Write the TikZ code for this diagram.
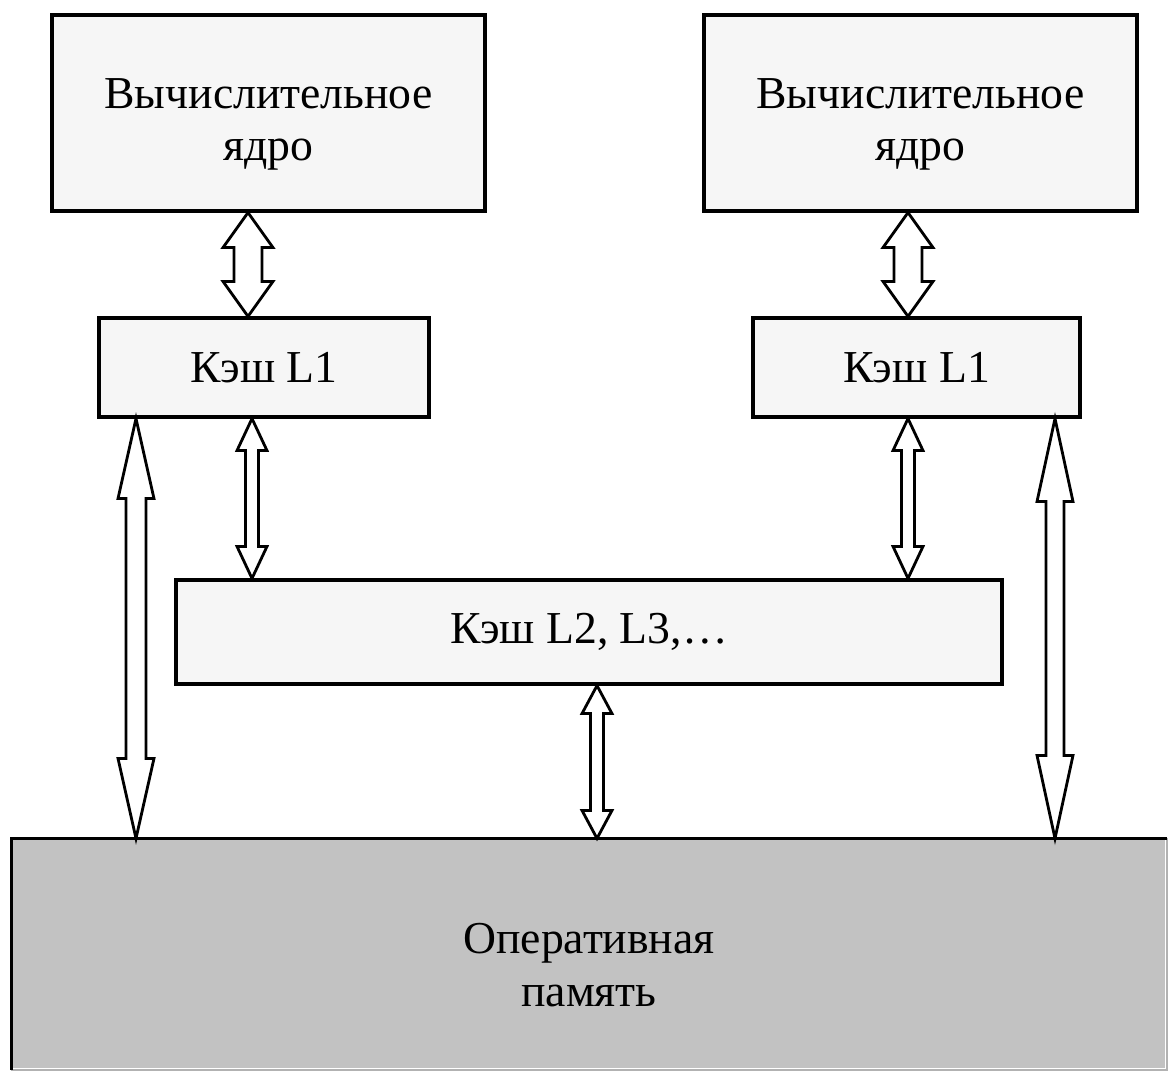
\documentclass[tikz,border=0pt]{standalone}
\usepackage{fontspec}
\setmainfont{Liberation Serif}
\usetikzlibrary{calc}

% hollow double-headed block arrow: top point, bottom point,
% shaft half width, head half width, head length
\newcommand{\dblarrow}[5]{%
  \draw[blockarrow] let \p1=(#1), \p2=(#2) in
    (\x1,\y1) -- (\x1+#4,\y1-#5) -- (\x1+#3,\y1-#5) -- (\x1+#3,\y2+#5)
    -- (\x1+#4,\y2+#5) -- (\x1,\y2) -- (\x1-#4,\y2+#5) -- (\x1-#3,\y2+#5)
    -- (\x1-#3,\y1-#5) -- (\x1-#4,\y1-#5) -- cycle;}

\begin{document}
\begin{tikzpicture}[
    box/.style={rectangle, draw=black, line width=0.9pt, fill=gray!7,
                align=center, inner sep=0pt,
                font=\fontsize{13}{15}\selectfont},
    twoline/.style={text height=30pt},
    mem/.style={box, twoline, draw=none, fill=black!24},
    blockarrow/.style={draw=black, line width=0.8pt, fill=white}
]
  \useasboundingbox (0,0) rectangle (11.69,-10.71);

  % Cores
  \node[box, twoline, minimum width=4.33cm, minimum height=1.96cm] (core1) at (2.685,-1.13) {Вычислительное\\ядро};
  \node[box, twoline, minimum width=4.33cm, minimum height=1.96cm] (core2) at (9.205,-1.13) {Вычислительное\\ядро};

  % L1 caches
  \node[box, minimum width=3.30cm, minimum height=0.99cm] (l1a) at (2.64,-3.675) {Кэш L1};
  \node[box, minimum width=3.27cm, minimum height=0.99cm] (l1b) at (9.165,-3.675) {Кэш L1};

  % Shared caches
  \node[box, minimum width=8.26cm, minimum height=1.04cm] (l2) at (5.89,-6.32) {Кэш L2, L3,\ldots};

  % Main memory (faint right and bottom edges)
  \node[mem, minimum width=11.52cm, minimum height=2.28cm] (ram) at (5.89,-9.54) {Оперативная\\память};
  \draw[black!30, line width=0.6pt] (ram.north east) -- (ram.south east) -- (ram.south west);
  \draw[line width=0.9pt] (ram.south west) -- (ram.north west) -- (ram.north east);

  % Arrows core <-> L1
  \dblarrow{$(core1.south)+(-0.205,0)$}{$(l1a.north)+(-0.16,0)$}{0.14cm}{0.25cm}{0.35cm}
  \dblarrow{$(core2.south)+(-0.125,0)$}{$(l1b.north)+(-0.085,0)$}{0.14cm}{0.25cm}{0.35cm}

  % Arrows L1 <-> L2
  \dblarrow{$(l1a.south)+(-0.12,0)$}{$(l2.north)+(-3.37,0)$}{0.065cm}{0.15cm}{0.32cm}
  \dblarrow{$(l1b.south)+(-0.085,0)$}{$(l2.north)+(3.19,0)$}{0.065cm}{0.15cm}{0.32cm}

  % Arrow L2 <-> memory
  \dblarrow{$(l2.south)+(0.08,0)$}{$(ram.north)+(0.08,0)$}{0.065cm}{0.15cm}{0.28cm}

  % Arrows L1 <-> memory
  \dblarrow{$(l1a.south)+(-1.28,0)$}{$(ram.north)+(-4.53,0)$}{0.10cm}{0.18cm}{0.80cm}
  \dblarrow{$(l1b.south)+(1.385,0)$}{$(ram.north)+(4.66,0)$}{0.09cm}{0.18cm}{0.83cm}

\end{tikzpicture}
\end{document}
